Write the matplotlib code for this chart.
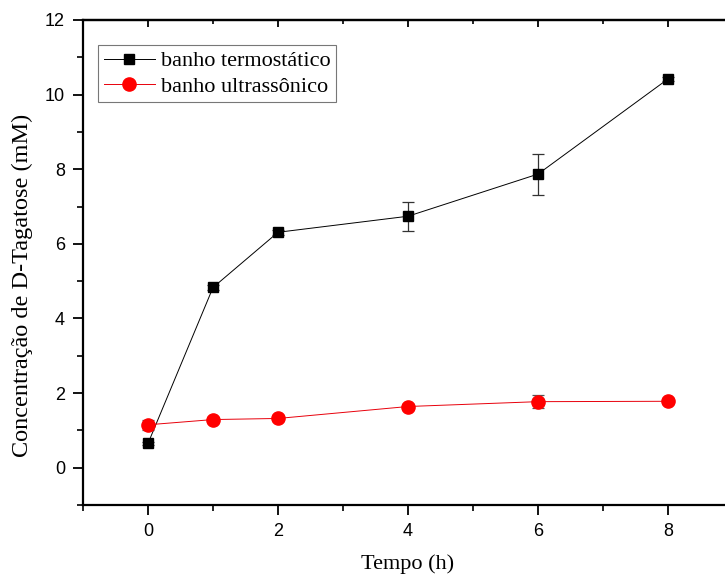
import matplotlib
matplotlib.use('Agg')
import matplotlib.pyplot as plt
from matplotlib.ticker import MultipleLocator

tempo = [0, 1, 2, 4, 6, 8]
termostatico = [0.65, 4.83, 6.31, 6.74, 7.87, 10.42]
termostatico_err = [0.05, 0.08, 0.07, 0.39, 0.55, 0.06]
ultrassonico = [1.15, 1.29, 1.32, 1.64, 1.77, 1.78]
ultrassonico_err = [0.13, 0.05, 0.05, 0.06, 0.18, 0.04]

serif = ['Liberation Serif', 'DejaVu Serif']
sans = ['Liberation Sans', 'DejaVu Sans']

fig = plt.figure(figsize=(7.25, 5.77), dpi=100)
ax = fig.add_axes([83 / 725, 1 - 505 / 577, 650 / 725, 485 / 577])

c1 = ax.errorbar(tempo, termostatico, yerr=termostatico_err, color='black', lw=0.7,
                 marker='s', markersize=7.5, capsize=4, elinewidth=0.9, capthick=0.9,
                 ecolor='#333333', zorder=3)
c2 = ax.errorbar(tempo, ultrassonico, yerr=ultrassonico_err, color='#e8000b', lw=0.7,
                 marker='o', markersize=9.5, capsize=4, elinewidth=0.9, capthick=0.9,
                 ecolor='#555555', mfc='#ff0000', mec='#ff0000', zorder=3)

ax.set_xlim(-1, 9)
ax.set_ylim(-1, 12)
ax.xaxis.set_major_locator(MultipleLocator(2))
ax.xaxis.set_minor_locator(MultipleLocator(1))
ax.yaxis.set_major_locator(MultipleLocator(2))
ax.yaxis.set_minor_locator(MultipleLocator(1))
ax.tick_params(which='major', direction='out', length=7, width=1.3, labelsize=13, pad=6)
ax.tick_params(which='minor', direction='out', length=4, width=1.2)
for lab in ax.get_xticklabels() + ax.get_yticklabels():
    lab.set_family(sans)

top = ax.secondary_xaxis('top')
top.xaxis.set_major_locator(MultipleLocator(2))
top.xaxis.set_minor_locator(MultipleLocator(1))
top.tick_params(which='major', direction='in', length=5, width=1.3, labeltop=False)
top.tick_params(which='minor', direction='in', length=3, width=1.2)

for s in ax.spines.values():
    s.set_linewidth(1.6)
top.spines['top'].set_linewidth(1.6)

ax.set_xlabel('Tempo (h)', family=serif, fontsize=16, labelpad=10)
ax.set_ylabel('Concentração de D-Tagatose (mM)', family=serif, fontsize=17.5)
ax.yaxis.set_label_coords(-0.077, 0.452)

leg = ax.legend([c1[0], c2[0]], ['banho termostático', 'banho ultrassônico'],
                loc='upper left', bbox_to_anchor=(0.023, 0.948),
                prop={'family': serif, 'size': 16},
                frameon=True, fancybox=False, edgecolor='#555555', handlelength=2.3,
                borderpad=0.25, labelspacing=0.22, handletextpad=0.3, borderaxespad=0)
leg.get_frame().set_linewidth(0.8)

fig.savefig('out.png', dpi=100)
